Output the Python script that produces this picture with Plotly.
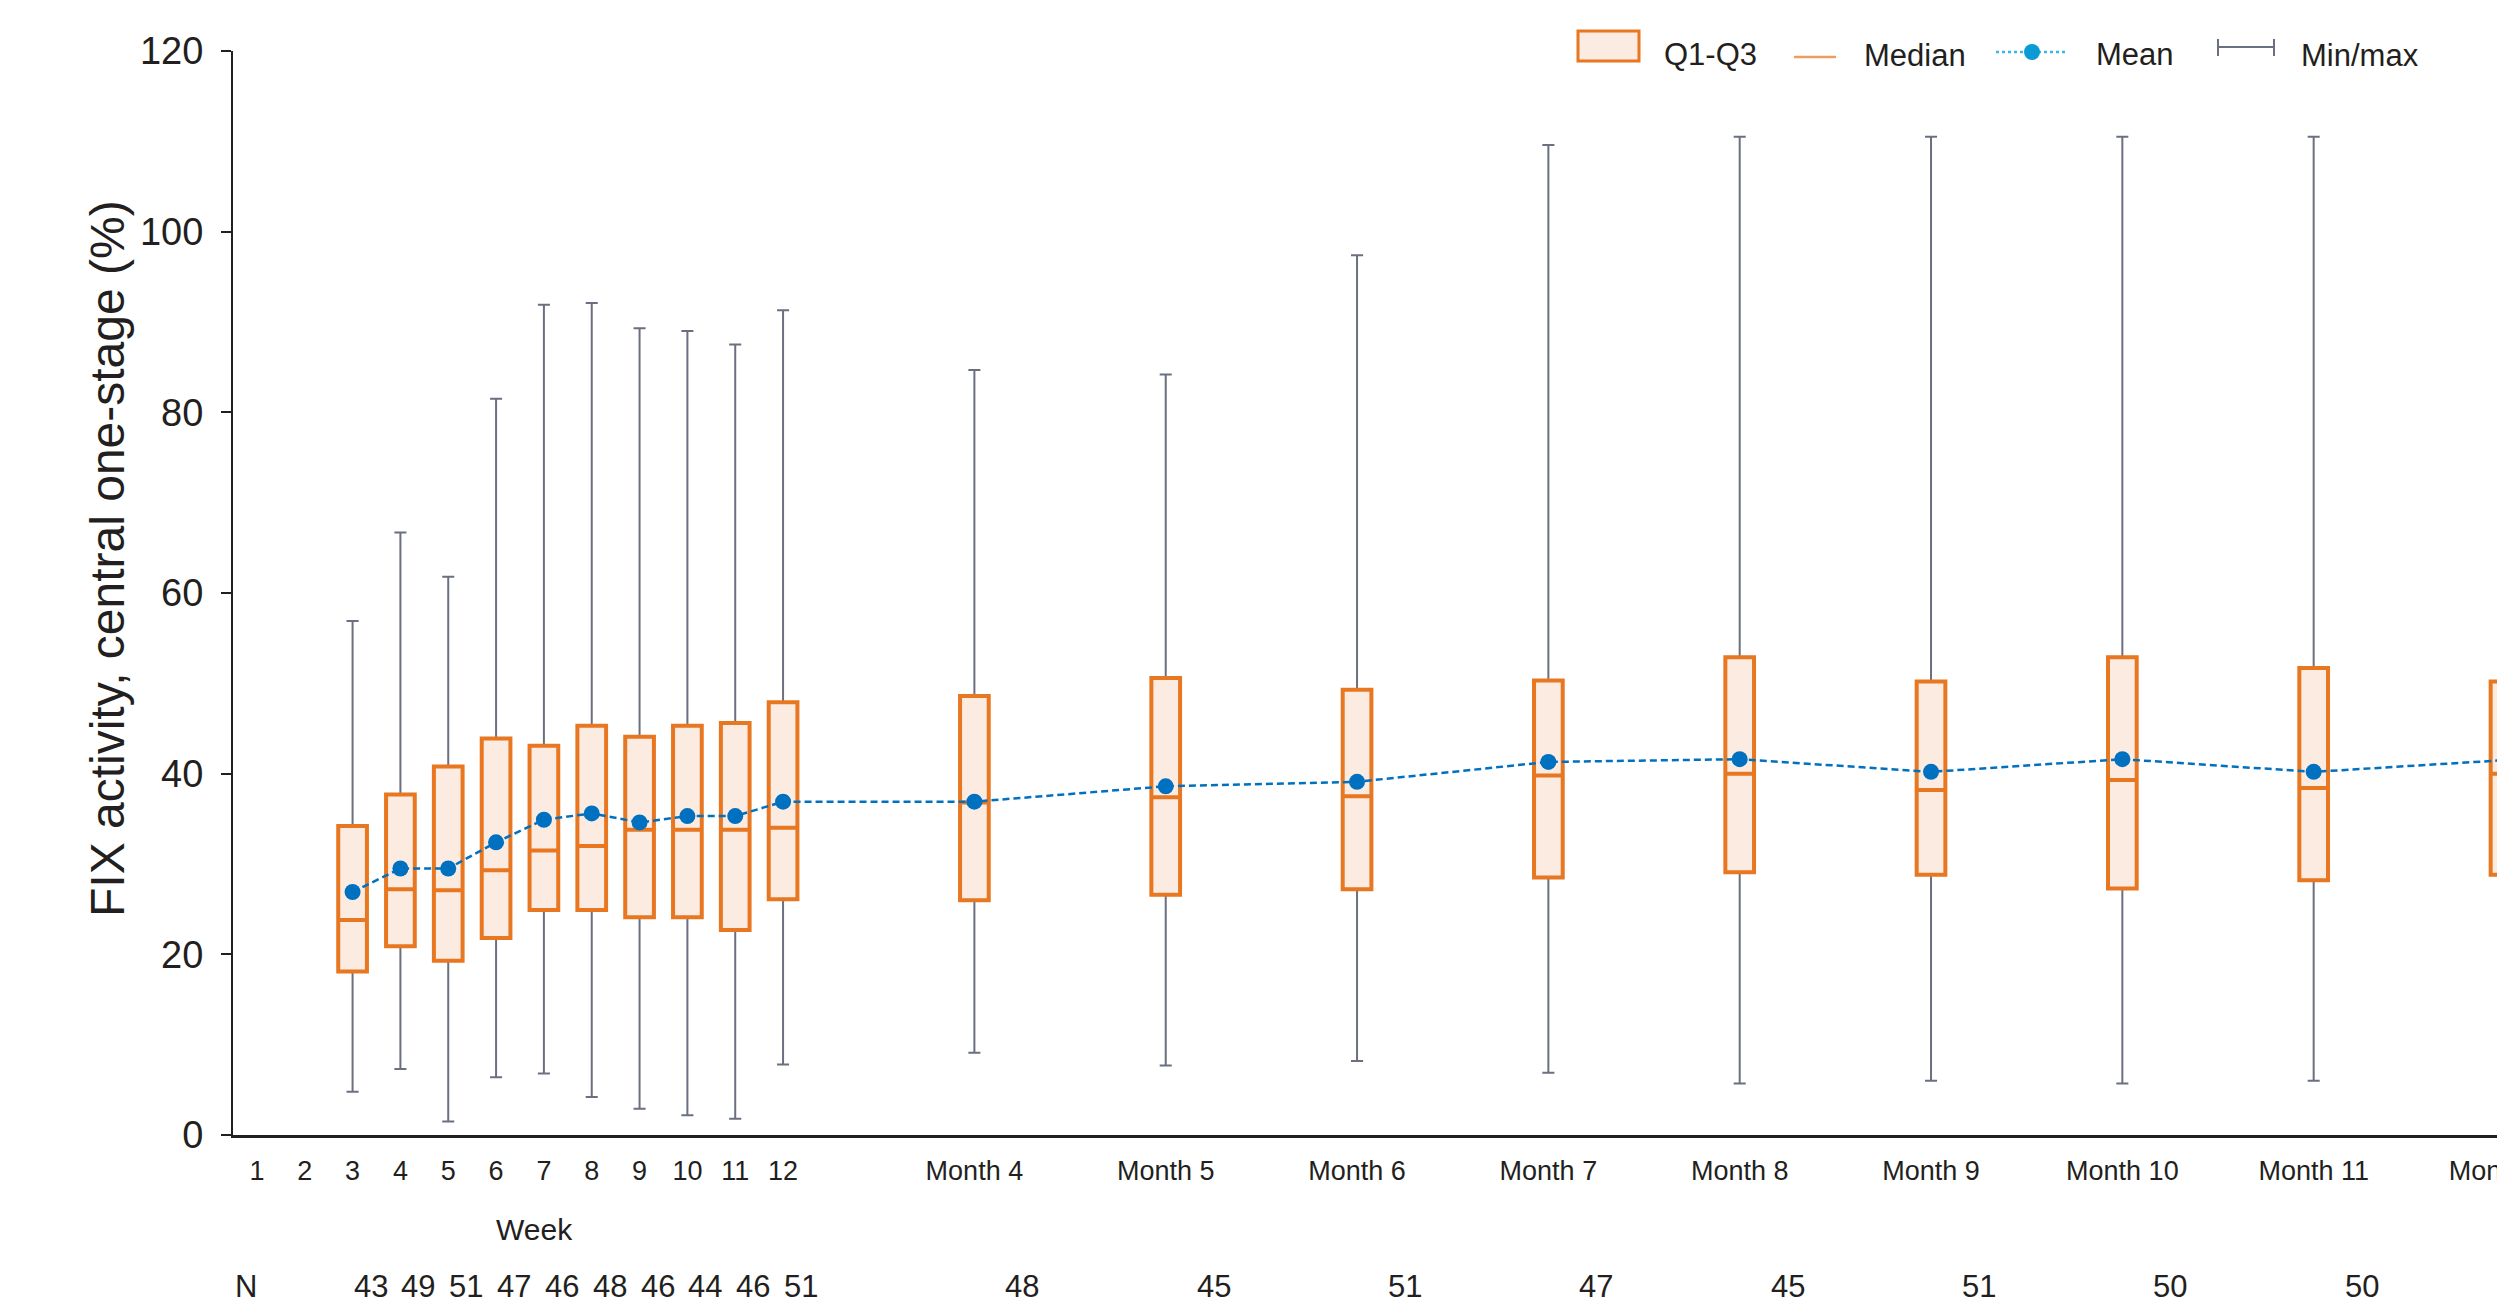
import plotly.graph_objects as go

# ---------------- data ----------------
weeks = [3, 4, 5, 6, 7, 8, 9, 10, 11, 12]
months = [4, 5, 6, 7, 8, 9, 10, 11, 12]

week_q1 = [18.1, 20.9, 19.3, 21.8, 24.9, 24.9, 24.1, 24.1, 22.7, 26.1]
week_median = [23.8, 27.2, 27.1, 29.3, 31.5, 32.0, 33.8, 33.8, 33.8, 34.0]
week_q3 = [34.2, 37.7, 40.8, 43.9, 43.1, 45.3, 44.1, 45.3, 45.6, 47.9]
week_mean = [26.9, 29.5, 29.5, 32.4, 34.9, 35.6, 34.6, 35.3, 35.3, 36.9]
week_min = [4.8, 7.3, 1.5, 6.4, 6.8, 4.2, 2.9, 2.2, 1.8, 7.8]
week_max = [56.9, 66.7, 61.8, 81.5, 91.9, 92.1, 89.3, 89.0, 87.5, 91.3]
week_n = [43, 49, 51, 47, 46, 48, 46, 44, 46, 51]

month_q1 = [26.0, 26.6, 27.2, 28.5, 29.1, 28.8, 27.3, 28.2, 28.8]
month_median = [36.8, 37.4, 37.5, 39.8, 40.0, 38.2, 39.3, 38.4, 40.0]
month_q3 = [48.6, 50.6, 49.3, 50.3, 52.9, 50.2, 52.9, 51.7, 50.2]
month_mean = [36.9, 38.6, 39.1, 41.3, 41.6, 40.2, 41.6, 40.2, 41.5]
month_min = [9.1, 7.7, 8.2, 6.9, 5.7, 6.0, 5.7, 6.0, 6.0]
month_max = [84.7, 84.2, 97.4, 109.6, 110.5, 110.5, 110.5, 110.5, 113.4]
month_n = [48, 45, 51, 47, 45, 51, 50, 50]  # Month 12 N not visible

week_tick_labels = [str(w) for w in range(1, 13)]
month_tick_labels = ["Month %d" % m for m in months]

# positions on a week-based axis (month m ~ week 4m)
week_pos = weeks
month_pos = [4 * m for m in months]
pos = week_pos + month_pos
q1 = week_q1 + month_q1
med = week_median + month_median
q3 = week_q3 + month_q3
mean = week_mean + month_mean
mn = week_min + month_min
mx = week_max + month_max

# ---------------- style ----------------
ORANGE = "#E87722"
PEACH = "#FCEBE0"
GRAY = "#6B7080"
BLUE = "#0070C0"
TXT = "#231F20"
FONT = "Liberation Sans, Arial, sans-serif"

W, H = 2505, 1307
OFF = 8  # default page body margin offsets the figure div
# plot area in window pixels: x 233..2505, y 51..1135
L = 233 - OFF
R = W - (2505 - OFF)
T = 51 - OFF
B = H - (1135 - OFF)
PW, PH = W - L - R, H - T - B


def px_x(px):
    """window pixel x -> paper"""
    return (px - OFF - L) / PW


def px_y(py):
    """window pixel y -> paper"""
    return (H - B - (py - OFF)) / PH


fig = go.Figure()

# min/max whiskers (gray box drawn underneath)
fig.add_trace(go.Box(
    x=pos, q1=q1, median=med, q3=q3, lowerfence=mn, upperfence=mx,
    width=0.6, whiskerwidth=0.42, boxpoints=False,
    line=dict(color=GRAY, width=2), fillcolor="rgba(0,0,0,0)",
    hoverinfo="skip", showlegend=False))

# Q1-Q3 boxes with median
fig.add_trace(go.Box(
    x=pos, q1=q1, median=med, q3=q3, lowerfence=q1, upperfence=q3,
    width=0.6, whiskerwidth=0, boxpoints=False,
    line=dict(color=ORANGE, width=4), fillcolor=PEACH,
    hoverinfo="skip", showlegend=False))

# mean
fig.add_trace(go.Scatter(
    x=pos, y=mean, mode="lines+markers",
    line=dict(color=BLUE, width=2.5, dash="7px,4px"),
    marker=dict(color=BLUE, size=16),
    hoverinfo="skip", showlegend=False))

annotations = []
# y title
annotations.append(dict(
    text="FIX activity, central one-stage (%)", textangle=-90,
    xref="paper", yref="paper", x=px_x(107), y=px_y(559),
    xanchor="center", yanchor="middle", showarrow=False,
    font=dict(size=48, color=TXT, family=FONT)))
# Week label
annotations.append(dict(
    text="Week", xref="x", yref="paper", x=6.8, y=px_y(1229),
    xanchor="center", yanchor="middle", showarrow=False,
    font=dict(size=30, color=TXT, family=FONT)))
# N row
annotations.append(dict(
    text="N", xref="x", yref="paper", x=0.77, y=px_y(1286),
    xanchor="center", yanchor="middle", showarrow=False,
    font=dict(size=31, color=TXT, family=FONT)))
for p, n in zip(week_pos, week_n):
    annotations.append(dict(
        text=str(n), xref="x", yref="paper", x=p, xshift=18, y=px_y(1286),
        xanchor="center", yanchor="middle", showarrow=False,
        font=dict(size=31, color=TXT, family=FONT)))
for p, n in zip(month_pos, month_n):
    annotations.append(dict(
        text=str(n), xref="x", yref="paper", x=p, xshift=48, y=px_y(1286),
        xanchor="center", yanchor="middle", showarrow=False,
        font=dict(size=31, color=TXT, family=FONT)))

# legend (manual)
shapes = []
shapes.append(dict(type="rect", xref="paper", yref="paper",
                   x0=px_x(1578), x1=px_x(1639), y0=px_y(61), y1=px_y(31),
                   fillcolor=PEACH, line=dict(color=ORANGE, width=3)))
shapes.append(dict(type="line", xref="paper", yref="paper",
                   x0=px_x(1794), x1=px_x(1836), y0=px_y(57), y1=px_y(57),
                   line=dict(color="#EE9D62", width=2.5)))
shapes.append(dict(type="line", xref="paper", yref="paper",
                   x0=px_x(1996), x1=px_x(2066), y0=px_y(52), y1=px_y(52),
                   line=dict(color="#3DB4E5", width=2.5, dash="dot")))
shapes.append(dict(type="circle", xref="paper", yref="paper",
                   x0=px_x(2024), x1=px_x(2040), y0=px_y(60), y1=px_y(44),
                   fillcolor="#0A9AD6", line=dict(color="#0A9AD6", width=0)))
shapes.append(dict(type="line", xref="paper", yref="paper",
                   x0=px_x(2218), x1=px_x(2274), y0=px_y(47), y1=px_y(47),
                   line=dict(color=GRAY, width=2)))
for xx in (2218, 2274):
    shapes.append(dict(type="line", xref="paper", yref="paper",
                       x0=px_x(xx), x1=px_x(xx), y0=px_y(39), y1=px_y(56),
                       line=dict(color=GRAY, width=2)))
for txt, xl, yc in [("Q1-Q3", 1662, 54), ("Median", 1862, 56),
                    ("Mean", 2094, 54), ("Min/max", 2299, 56)]:
    annotations.append(dict(
        text=txt, xref="paper", yref="paper", x=px_x(xl), y=px_y(yc),
        xanchor="left", yanchor="middle", showarrow=False,
        font=dict(size=31, color=TXT, family=FONT)))

fig.update_layout(
    width=W, height=H,
    margin=dict(l=L, r=R, t=T, b=B, pad=0, autoexpand=False),
    paper_bgcolor="white", plot_bgcolor="white",
    showlegend=False, boxmode="overlay",
    font=dict(family=FONT, color=TXT),
    annotations=annotations, shapes=shapes,
    xaxis=dict(
        range=[0.5, 48], automargin=False,
        tickmode="array",
        tickvals=list(range(1, 13)) + month_pos,
        ticktext=week_tick_labels + month_tick_labels,
        ticks="", showline=True, linecolor=TXT, linewidth=2.5,
        showgrid=False, zeroline=False,
        tickfont=dict(size=27, color=TXT, family=FONT),
        ticklabelstandoff=10, ticklabeloverflow="allow",
    ),
    yaxis=dict(
        range=[0, 120], automargin=False,
        tickmode="linear", tick0=0, dtick=20,
        ticks="outside", ticklen=10, tickwidth=2, tickcolor=TXT,
        showline=True, linecolor=TXT, linewidth=2,
        showgrid=False, zeroline=False,
        tickfont=dict(size=38, color=TXT, family=FONT),
        ticklabelstandoff=10,
    ),
)

fig.write_html("out.html")
